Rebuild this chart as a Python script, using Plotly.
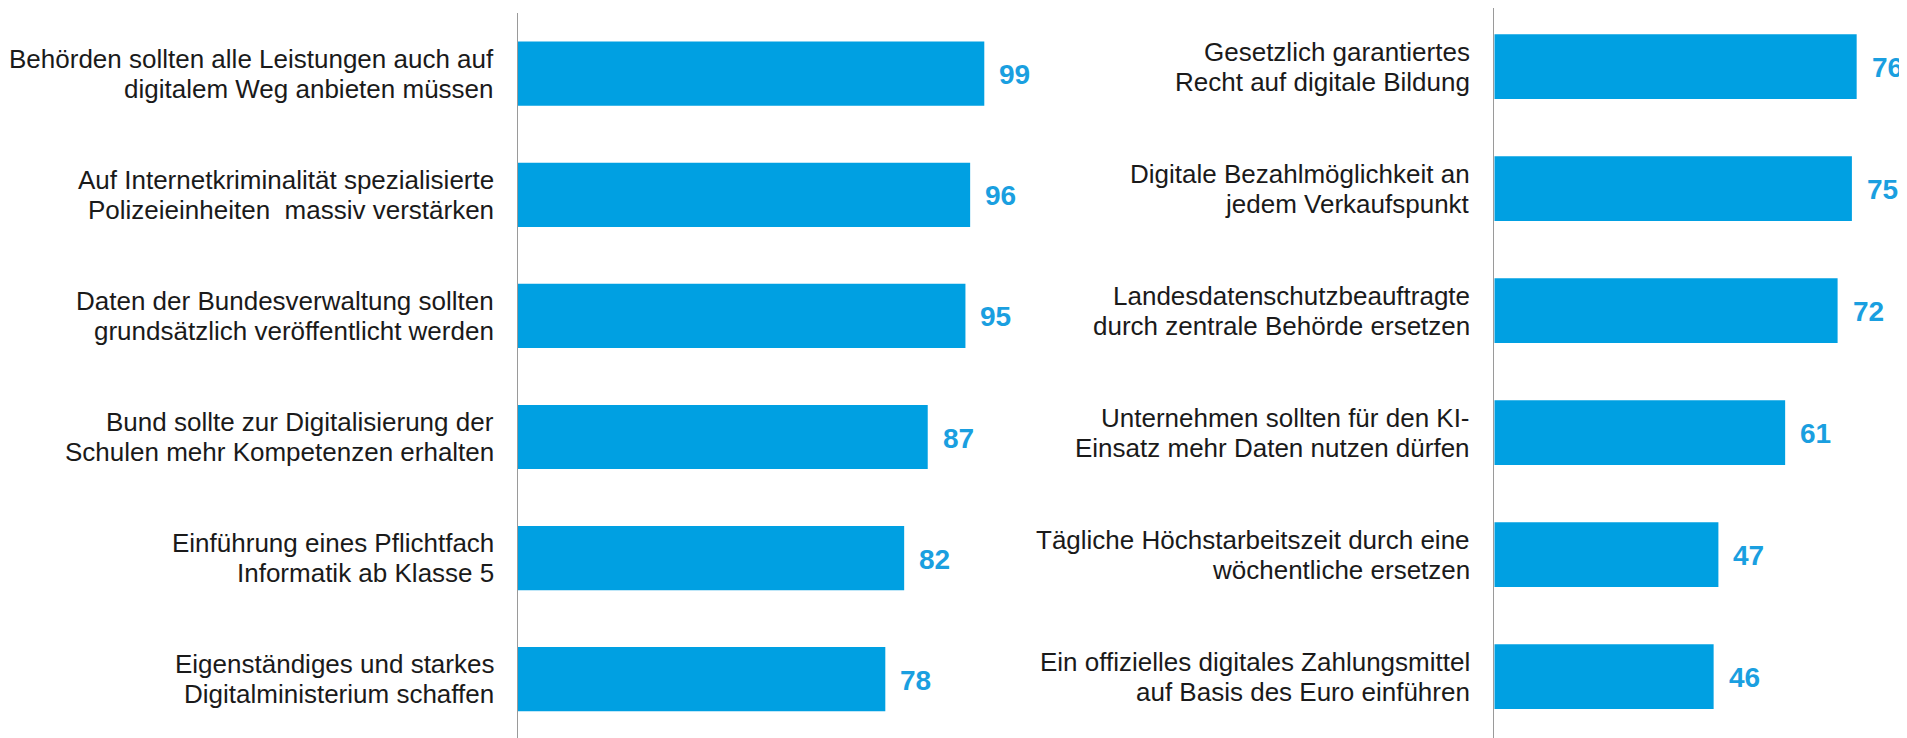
import plotly.graph_objects as go

left_labels = [
    "Behörden sollten alle Leistungen auch auf<br>digitalem Weg anbieten müssen",
    "Auf Internetkriminalität spezialisierte<br>Polizeieinheiten  massiv verstärken",
    "Daten der Bundesverwaltung sollten<br>grundsätzlich veröffentlicht werden",
    "Bund sollte zur Digitalisierung der<br>Schulen mehr Kompetenzen erhalten",
    "Einführung eines Pflichtfach<br>Informatik ab Klasse 5",
    "Eigenständiges und starkes<br>Digitalministerium schaffen",
]
left_values = [99, 96, 95, 87, 82, 78]

right_labels = [
    "Gesetzlich garantiertes<br>Recht auf digitale Bildung",
    "Digitale Bezahlmöglichkeit an<br>jedem Verkaufspunkt",
    "Landesdatenschutzbeauftragte<br>durch zentrale Behörde ersetzen",
    "Unternehmen sollten für den KI-<br>Einsatz mehr Daten nutzen dürfen",
    "Tägliche Höchstarbeitszeit durch eine<br>wöchentliche ersetzen",
    "Ein offizielles digitales Zahlungsmittel<br>auf Basis des Euro einführen",
]
right_values = [76, 75, 72, 61, 47, 46]

BAR = "#00A0E2"
VAL = "#1A9FE0"
FONT = "Liberation Sans"

OFF = 8  # page body margin
W, H = 1907 - OFF, 738 - OFF  # figure fits the window without scrollbars
fig = go.Figure()

fig.add_trace(go.Bar(x=left_values, y=left_labels, orientation="h",
                     marker=dict(color=BAR, line=dict(width=0)), width=0.53,
                     xaxis="x", yaxis="y", hoverinfo="skip"))
fig.add_trace(go.Bar(x=right_values, y=right_labels, orientation="h",
                     marker=dict(color=BAR, line=dict(width=0)), width=0.53,
                     xaxis="x2", yaxis="y2", hoverinfo="skip"))

annotations = []
for labels, values, xr, yr in [(left_labels, left_values, "x", "y"),
                               (right_labels, right_values, "x2", "y2")]:
    for lab, v in zip(labels, values):
        lines = lab.split("<br>")
        for i, ln in enumerate(lines):
            annotations.append(dict(
                x=0, y=lab, xref=xr, yref=yr, text=ln, showarrow=False,
                xanchor="right", yanchor="middle", align="right", xshift=-22,
                yshift=15 - 30 * i,
                font=dict(family=FONT, size=26, color="#1a1a1a")))
        annotations.append(dict(
            x=v, y=lab, xref=xr, yref=yr, text="<b>%d</b>" % v, showarrow=False,
            xanchor="left", yanchor="middle", xshift=13, yshift=-1,
            font=dict(family=FONT, size=28, color=VAL)))

# reference pixel geometry, shifted by the page margin
ax1 = 517.7 - OFF
ax2 = 1494.3 - OFF
x1_start = ax1 / W
x1_end = 0.55
x2_start = ax2 / W
r1 = (x1_end - x1_start) * W / 4.713
r2 = (1.0 - x2_start) * W / 4.768

bottom_fig = H
# left y axis
top1 = 13.3 - OFF
c0_1 = 73.7 - OFF
p1 = 121.1
y1_range = [(bottom_fig - c0_1) / p1, -(c0_1 - top1) / p1]
y1_dom = [0, 1 - top1 / H]
# right y axis
c0_2 = 66.7 - OFF
p2 = 122.0
y2_range = [(bottom_fig - c0_2) / p2, -c0_2 / p2]
y2_dom = [0, 1.0]

fig.update_layout(
    width=W, height=H,
    margin=dict(l=0, r=0, t=0, b=0),
    paper_bgcolor="white", plot_bgcolor="white",
    showlegend=False,
    annotations=annotations,
    xaxis=dict(domain=[x1_start, x1_end], range=[0, r1], visible=False, fixedrange=True),
    xaxis2=dict(domain=[x2_start, 1.0], range=[0, r2], visible=False, fixedrange=True),
    yaxis=dict(domain=y1_dom, anchor="x", range=y1_range,
               categoryorder="array", categoryarray=left_labels,
               showticklabels=False, showgrid=False, zeroline=False, ticks="",
               showline=True, linecolor="#9a9a9a", linewidth=1.3, fixedrange=True),
    yaxis2=dict(domain=y2_dom, anchor="x2", range=y2_range,
                categoryorder="array", categoryarray=right_labels,
                showticklabels=False, showgrid=False, zeroline=False, ticks="",
                showline=True, linecolor="#9a9a9a", linewidth=1.3, fixedrange=True),
)

fig.write_html("out.html")
